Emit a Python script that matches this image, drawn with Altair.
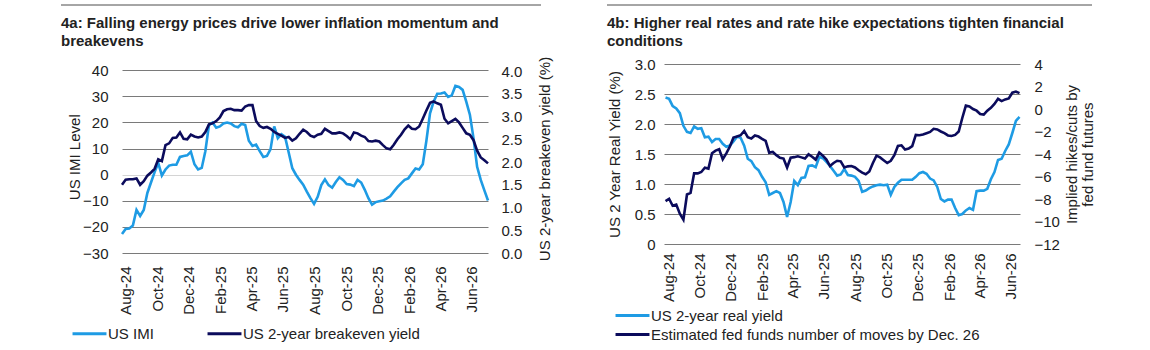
import altair as alt
import pandas as pd

FONT = "Liberation Sans"
LIGHT = "#1E9BE4"
DARK = "#0B0B5C"
GRID = "#7a7a7a"
ZERO = "#d4d4d4"
TEXT = "#222222"

title_a = ["4a: Falling energy prices drive lower inflation momentum and", "breakevens"]
title_b = ["4b: Higher real rates and rate hike expectations tighten financial", "conditions"]
series_a = ["US IMI", "US 2-year breakeven yield"]
series_b = ["US 2-year real yield", "Estimated fed funds number of moves by Dec. 26"]

# weekly values
imi = [-22.7, -20.8, -20.6, -19.5, -13.5, -15.8, -13.5, -7.0, -3.0, 1.0,
       4.5, -0.3, 2.0, 3.5, 3.8, 3.8, 6.8, 7.2, 7.4, 8.8,
       4.0, 2.0, 2.6, 9.0, 19.0, 20.0, 18.0, 18.5, 19.6, 20.0,
       19.6, 18.6, 18.2, 19.5, 19.0, 13.0, 11.0, 11.5, 9.0, 6.8,
       7.2, 9.8, 18.5, 14.0, 15.5, 14.5, 8.5, 2.5, 0.0, -2.0,
       -3.8, -6.5, -9.0, -11.2, -8.5, -4.0, -1.8, -4.0, -5.0, -2.8,
       -1.0, -2.0, -3.6, -3.8, -4.4, -2.0, -3.0, -5.8, -9.0, -11.5,
       -10.5, -10.2, -9.9, -9.2, -8.3, -6.5, -4.8, -3.3, -2.0, -1.4,
       0.5, 2.4, 2.0, 4.0, 13.0, 23.5, 28.0, 31.0, 31.1, 31.5,
       29.8, 30.4, 34.0, 33.6, 32.5, 28.0, 23.0, 14.0, 3.0, -2.0,
       -6.0, -9.9]
breakeven = [1.50, 1.61, 1.62, 1.62, 1.64, 1.50, 1.58, 1.70, 1.77, 1.85,
             2.06, 2.02, 2.37, 2.41, 2.53, 2.54, 2.65, 2.51, 2.50, 2.60,
             2.56, 2.54, 2.56, 2.66, 2.83, 2.85, 2.90, 2.98, 3.12, 3.16,
             3.17, 3.14, 3.14, 3.13, 3.22, 3.25, 3.25, 2.90, 2.79, 2.75,
             2.77, 2.73, 2.66, 2.62, 2.58, 2.53, 2.55, 2.47, 2.52, 2.62,
             2.71, 2.66, 2.58, 2.55, 2.60, 2.62, 2.73, 2.68, 2.63, 2.63,
             2.65, 2.63, 2.57, 2.50, 2.65, 2.63, 2.58, 2.55, 2.46, 2.45,
             2.47, 2.45, 2.37, 2.30, 2.28, 2.38, 2.50, 2.60, 2.72, 2.80,
             2.73, 2.72, 2.78, 2.95, 3.13, 3.30, 3.33, 3.29, 3.26, 2.95,
             2.85, 2.90, 2.95, 2.87, 2.75, 2.63, 2.60, 2.48, 2.25, 2.10,
             2.04, 1.97]
real_yield = [2.44, 2.42, 2.30, 2.26, 2.18, 1.97, 1.87, 1.85, 1.96, 1.92,
              1.93, 1.78, 1.79, 1.70, 1.75, 1.75, 1.67, 1.62, 1.64, 1.71,
              1.79, 1.77, 1.64, 1.42, 1.38, 1.28, 1.23, 1.12, 1.03, 0.82,
              0.85, 0.88, 0.85, 0.70, 0.45, 0.70, 1.05, 0.98, 1.10, 1.11,
              1.30, 1.31, 1.28, 1.45, 1.43, 1.37, 1.30, 1.22, 1.14, 1.16,
              1.25, 1.15, 1.14, 1.12, 1.05, 0.87, 0.89, 0.93, 0.96, 0.98,
              0.99, 0.98, 0.99, 0.82, 0.95, 1.02, 1.07, 1.07, 1.07, 1.07,
              1.12, 1.18, 1.20, 1.17, 1.09, 1.06, 0.95, 0.75, 0.71, 0.74,
              0.74, 0.60, 0.48, 0.50, 0.56, 0.60, 0.57, 0.88, 0.89, 0.89,
              0.92, 1.08, 1.20, 1.40, 1.42, 1.55, 1.66, 1.85, 2.05, 2.12]
fed_moves = [-8.19, -7.98, -8.60, -8.49, -9.30, -9.83, -7.60, -7.45, -5.72, -5.72,
             -5.60, -5.22, -5.30, -3.94, -3.70, -3.58, -4.47, -3.94, -3.34, -2.54,
             -2.45, -2.33, -1.95, -2.50, -2.63, -2.35, -2.45, -2.65, -2.84, -3.88,
             -3.82, -4.10, -4.33, -4.40, -5.20, -4.33, -4.28, -4.20, -4.30, -4.40,
             -4.03, -4.24, -4.50, -3.88, -4.15, -4.50, -5.07, -4.80, -4.60, -4.65,
             -5.20, -5.10, -5.07, -5.20, -5.45, -5.66, -5.80, -5.55, -4.80, -4.15,
             -4.30, -4.55, -4.80, -4.60, -4.10, -3.29, -3.23, -3.60, -3.52, -3.30,
             -2.30, -2.33, -2.26, -2.15, -2.04, -1.76, -1.82, -2.00, -2.15, -2.35,
             -2.40, -2.30, -2.00, -0.80, 0.30, 0.22, 0.00, -0.15, -0.45, -0.50,
             -0.15, 0.10, 0.45, 0.90, 0.70, 0.85, 0.94, 1.45, 1.55, 1.41]

imi_ticks = [-30, -20, -10, 0, 10, 20, 30, 40]
be_ticks = [0.0, 0.5, 1.0, 1.5, 2.0, 2.5, 3.0, 3.5, 4.0]
ry_ticks = [0.0, 0.5, 1.0, 1.5, 2.0, 2.5, 3.0]
moves_ticks = [-12, -10, -8, -6, -4, -2, 0, 2, 4]
x_tick_months = [(2024, 8), (2024, 10), (2024, 12), (2025, 2), (2025, 4), (2025, 6),
                 (2025, 8), (2025, 10), (2025, 12), (2026, 2), (2026, 4), (2026, 6)]

left_dates = pd.date_range("2024-07-25", periods=len(imi), freq="7D")
right_dates = pd.date_range("2024-07-26", periods=len(real_yield), freq="7D")

df_imi = pd.DataFrame({"date": left_dates, "value": imi, "series": series_a[0]})
df_be = pd.DataFrame({"date": left_dates, "value": breakeven, "series": series_a[1]})
df_ry = pd.DataFrame({"date": right_dates, "value": real_yield, "series": series_b[0]})
df_mv = pd.DataFrame({"date": right_dates, "value": fed_moves, "series": series_b[1]})
one = pd.DataFrame({"k": [0]})

LBL = dict(labelFontSize=15, labelColor=TEXT, titleFontSize=15, titleColor=TEXT,
           titleFontWeight="normal", domain=False, ticks=False)

# wide, flat line symbol for the legends
LEG = dict(title=None, symbolType="M-3,0H3", symbolSize=128, symbolStrokeWidth=3,
           labelFontSize=15, labelColor=TEXT, labelOffset=11, padding=0, labelLimit=0)


def x_enc(d0, d1, pad):
    return alt.X(
        "date:T",
        scale=alt.Scale(domain=[alt.DateTime(year=d0[0], month=d0[1], date=d0[2]),
                                alt.DateTime(year=d1[0], month=d1[1], date=d1[2])]),
        axis=alt.Axis(values=[alt.DateTime(year=y, month=m, date=1) for y, m in x_tick_months],
                      format="%b-%y", labelAngle=270, labelPadding=pad, grid=False,
                      title=None, labelOverlap=False, labelFlush=False, **LBL),
    )


def color_enc(series, legend):
    return alt.Color("series:N", scale=alt.Scale(domain=series, range=[LIGHT, DARK]), legend=legend)


# ---------- left panel ----------
leg_a = alt.Legend(orient="none", legendX=-40, legendY=262, direction="horizontal", columns=2,
                   columnPadding=47, **LEG)
xa = x_enc((2024, 7, 25), (2026, 7, 2), 13)

line_imi = alt.Chart(df_imi).mark_line(strokeWidth=2.6).encode(
    x=xa,
    y=alt.Y("value:Q", scale=alt.Scale(domain=[-30, 42.41], nice=False, zero=False),
            axis=alt.Axis(values=imi_ticks, grid=True,
                          gridColor={"condition": {"test": "datum.value === 0", "value": ZERO}, "value": GRID},
                          gridWidth=1, labelPadding=14, title="US IMI Level",
                          titleAngle=270, titleX=-48, titleY=92.7, titleAlign="center",
                          titleBaseline="middle", **LBL)),
    color=color_enc(series_a, leg_a),
)
line_be = alt.Chart(df_be).mark_line(strokeWidth=2.6).encode(
    x=xa,
    y=alt.Y("value:Q", scale=alt.Scale(domain=[0, 4.154], nice=False, zero=False),
            axis=alt.Axis(orient="right", values=be_ticks, format=".1f", grid=False,
                          labelPadding=13, title="US 2-year breakeven yield (%)",
                          titleAngle=270, titleX=56, titleY=94.5, titleAlign="center",
                          titleBaseline="middle", **LBL)),
    color=color_enc(series_a, leg_a),
)
rule_a = alt.Chart(one).mark_rule(color="#4d4d4d", strokeWidth=1).encode(
    x=alt.value(-61), x2=alt.value(419), y=alt.value(-59))
text_a = alt.Chart(one).mark_text(align="left", baseline="alphabetic", fontSize=15,
                                  fontWeight="bold", font=FONT, color=TEXT, lineHeight=18).encode(
    x=alt.value(-61), y=alt.value(-36), text=alt.value(title_a))

left = alt.layer(rule_a, text_a, line_imi, line_be).resolve_scale(y="independent").properties(
    width=366, height=189)

# ---------- right panel ----------
leg_b = alt.Legend(orient="none", legendX=-39, legendY=244, direction="vertical",
                   rowPadding=3, **LEG)
xb = x_enc((2024, 7, 23), (2026, 6, 20), 9)

line_ry = alt.Chart(df_ry).mark_line(strokeWidth=2.6).encode(
    x=xb,
    y=alt.Y("value:Q", scale=alt.Scale(domain=[0, 3.0], nice=False, zero=False),
            axis=alt.Axis(values=ry_ticks, grid=True, gridColor=GRID, gridWidth=1,
                          labelExpr="datum.value == 0 ? '0' : format(datum.value, '.1f')",
                          labelPadding=9, title="US 2 Year Real Yield (%)",
                          titleAngle=270, titleX=-50, titleY=90, titleAlign="center",
                          titleBaseline="middle", **LBL)),
    color=color_enc(series_b, leg_b),
)
line_mv = alt.Chart(df_mv).mark_line(strokeWidth=2.6).encode(
    x=xb,
    y=alt.Y("value:Q", scale=alt.Scale(domain=[-12, 4], nice=False, zero=False),
            axis=alt.Axis(orient="right", values=moves_ticks, format="d", grid=False,
                          labelPadding=14, title=["Implied hikes/cuts by", "fed fund futures"],
                          titleAngle=270, titleX=51, titleY=90, titleAlign="center",
                          titleBaseline="middle", titleLineHeight=16, **LBL)),
    color=color_enc(series_b, leg_b),
)
rule_b = alt.Chart(one).mark_rule(color="#4d4d4d", strokeWidth=1).encode(
    x=alt.value(-57), x2=alt.value(428), y=alt.value(-59))
text_b = alt.Chart(one).mark_text(align="left", baseline="alphabetic", fontSize=15,
                                  fontWeight="bold", font=FONT, color=TEXT, lineHeight=18).encode(
    x=alt.value(-57), y=alt.value(-36), text=alt.value(title_b))

right = alt.layer(rule_b, text_b, line_ry, line_mv).resolve_scale(y="independent").properties(
    width=356, height=180)

chart = alt.hconcat(left, right, spacing=54).resolve_scale(color="independent").properties(
    padding={"left": 60, "top": 4, "right": 5, "bottom": 5}
).configure(font=FONT).configure_view(stroke=None)

chart.save("out.html", embed_options={"renderer": "svg", "actions": False})
